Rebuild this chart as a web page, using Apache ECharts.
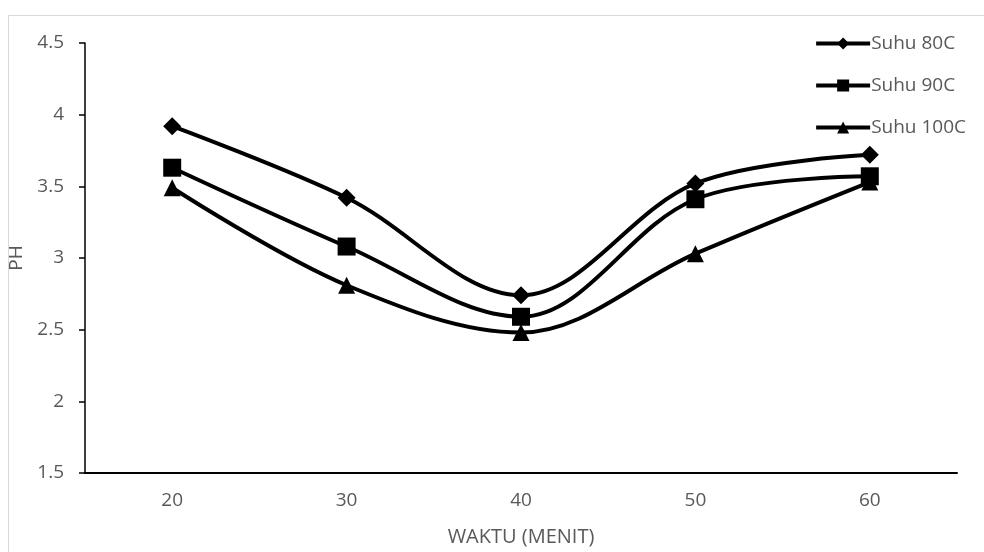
<!DOCTYPE html>
<html>
<head>
<meta charset="utf-8">
<script src="https://cdn.jsdelivr.net/npm/echarts@6/dist/echarts.min.js"></script>
<style>
	html, body { margin: 0; padding: 0; background: #fff; }
	#chart { width: 984px; height: 552px; }
</style>
</head>
<body>
<div id="chart"></div>
<script>
	// data
	var waktu = ['20', '30', '40', '50', '60'];
	var suhu80 = [3.92, 3.42, 2.74, 3.52, 3.72];
	var suhu90 = [3.63, 3.08, 2.59, 3.41, 3.57];
	var suhu100 = [3.49, 2.81, 2.48, 3.03, 3.53];
	var yTicks = [1.5, 2, 2.5, 3, 3.5, 4, 4.5];

	var font = 'Open Sans';
	var grey = '#595959';

	function line(name, data, symbol, size) {
		return {
			name: name,
			type: 'line',
			data: data,
			smooth: 0.35,
			symbol: symbol,
			symbolSize: size,
			lineStyle: { color: '#000', width: 4 },
			itemStyle: { color: '#000' }
		};
	}

	var chart = echarts.init(document.getElementById('chart'));
	chart.setOption({
		animation: false,
		graphic: [
			{ type: 'line', shape: { x1: 8.5, y1: 15.5, x2: 984, y2: 15.5 }, style: { stroke: '#d9d9d9', lineWidth: 1 } },
			{ type: 'line', shape: { x1: 8.5, y1: 15.5, x2: 8.5, y2: 552 }, style: { stroke: '#d9d9d9', lineWidth: 1 } }
		],
		legend: {
			orient: 'vertical',
			right: 13,
			top: 29,
			itemWidth: 54,
			itemHeight: 15,
			itemGap: 23,
			lineStyle: { width: 4 },
			textStyle: { color: grey, fontSize: 19, fontFamily: font, padding: [0, 0, 0, -4] },
			data: ['Suhu 80C', 'Suhu 90C', 'Suhu 100C']
		},
		grid: { left: 85, right: 27, top: 43, bottom: 79, outerBoundsMode: 'none' },
		xAxis: {
			type: 'category',
			data: waktu,
			boundaryGap: true,
			name: 'WAKTU (MENIT)',
			nameLocation: 'middle',
			nameGap: 54,
			nameTextStyle: { color: grey, fontSize: 20, fontFamily: font },
			axisLine: { lineStyle: { color: '#000', width: 2 } },
			axisTick: { alignWithLabel: true, length: 5, lineStyle: { color: '#000', width: 1.5 } },
			axisLabel: { color: grey, fontSize: 19, margin: 18, fontFamily: font }
		},
		yAxis: {
			type: 'value',
			min: yTicks[0],
			max: yTicks[yTicks.length - 1],
			interval: 0.5,
			name: 'PH',
			nameLocation: 'middle',
			nameGap: 56,
			nameTextStyle: { color: grey, fontSize: 19, fontFamily: font },
			splitLine: { show: false },
			axisLine: { show: true, lineStyle: { color: '#000', width: 1.5 } },
			axisTick: { show: true, length: 6, lineStyle: { color: '#000', width: 1.5 } },
			axisLabel: { color: grey, fontSize: 19, margin: 21, fontFamily: font }
		},
		series: [
			line('Suhu 80C', suhu80, 'diamond', 18),
			line('Suhu 90C', suhu90, 'rect', 18),
			line('Suhu 100C', suhu100, 'triangle', 17)
		]
	});
</script>
</body>
</html>
